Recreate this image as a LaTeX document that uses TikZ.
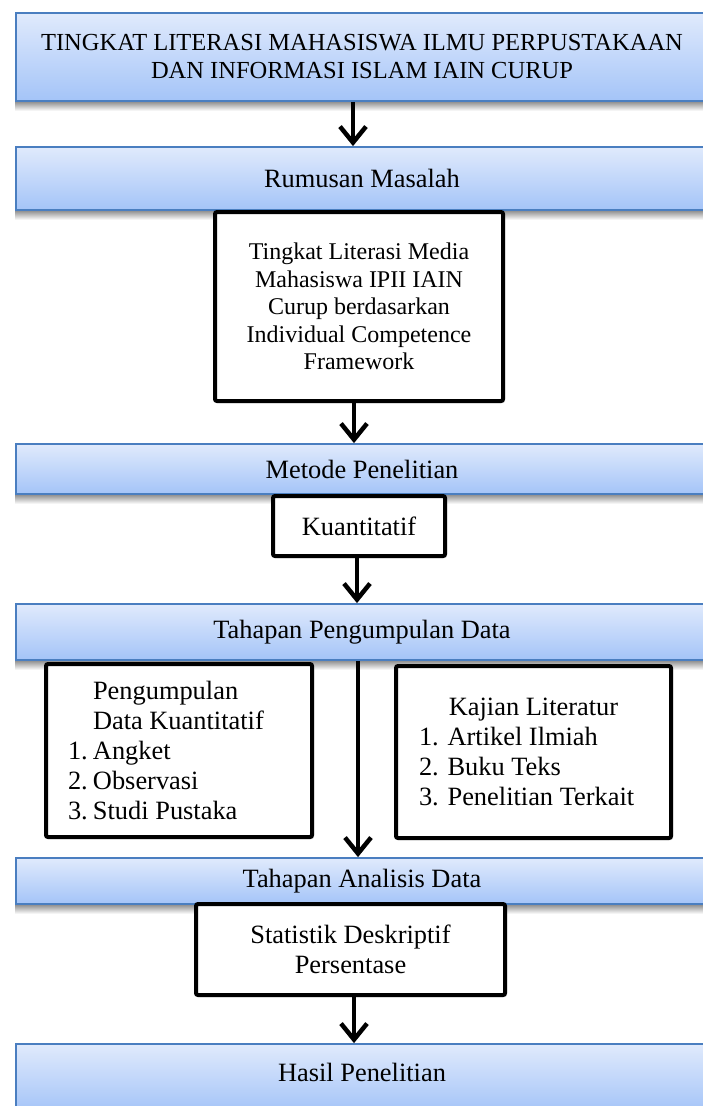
\documentclass[tikz,border=0pt]{standalone}
\usepackage{fontspec}
\setmainfont{Liberation Serif}
\usetikzlibrary{arrows.meta,shadows}
\definecolor{bluetop}{RGB}{224,234,252}
\definecolor{bluebot}{RGB}{164,196,248}
\definecolor{blueline}{RGB}{74,126,192}
\pgfdeclarelayer{background}
\pgfsetlayers{background,main}
\begin{document}
\begin{tikzpicture}[x=1pt,y=-1pt,
  bluebox/.style={draw=blueline, line width=1.8pt, top color=bluetop, bottom color=bluebot,
    minimum width=692pt, inner sep=0pt, align=center, font=\fontsize{26.4}{30}\selectfont},
  blackbox/.style={draw=black, line width=4pt, fill=white, rounded corners=2pt, inner sep=0pt,
    align=center, font=\fontsize{26.4}{30}\selectfont,
    drop shadow={shadow xshift=2pt, shadow yshift=-2pt, opacity=0.25}},
  btext/.style={inner sep=0pt, font=\fontsize{26.4}{30}\selectfont},
  bshade/.style={top color=black!40, bottom color=white, draw=none},
  arr/.style={line width=4pt, -{Straight Barb[length=16pt,width=26pt,line width=4.5pt]}},
]
\useasboundingbox (0,0) rectangle (703,1106);
\begin{scope}
\clip (0,0) rectangle (703,1106);
% blue boxes
\node[bluebox, minimum height=88pt, font=\fontsize{24.5}{28}\selectfont] (title) at (362,57)
  {TINGKAT LITERASI MAHASISWA ILMU PERPUSTAKAAN\\DAN INFORMASI ISLAM IAIN CURUP};
\node[bluebox, minimum height=63pt] (rumusan) at (362,178.5) {Rumusan Masalah};
\node[bluebox, minimum height=50pt] (metode) at (362,469) {Metode Penelitian};
\node[bluebox, minimum height=56pt] (tpd) at (362,632) {Tahapan Pengumpulan Data};
\node[bluebox, minimum height=46pt] (tad) at (362,881) {Tahapan Analisis Data};
\node[bluebox, minimum height=68pt] (hasil) at (362,1078) {};
\node[btext] (hasiltxt) at (362,1072) {Hasil Penelitian};
% blue shadows
\begin{pgfonlayer}{background}
\foreach \b in {title,rumusan,metode,tpd,tad}{
  \fill[bshade] ([yshift=-0.5pt]\b.south west) rectangle ([yshift=-9pt]\b.south east);
}
\end{pgfonlayer}
% black boxes
\node[blackbox, minimum width=288pt, minimum height=189pt, font=\fontsize{24}{27.5}\selectfont] (b1) at (359,306.5)
  {Tingkat Literasi Media\\Mahasiswa IPII IAIN\\Curup berdasarkan\\Individual Competence\\Framework};
\node[blackbox, minimum width=172pt, minimum height=60pt] (kuant) at (359,526) {Kuantitatif};
\node[blackbox, minimum width=266pt, minimum height=173pt, text width=222pt, align=flush left] (left) at (179,750.5)
  {\hspace*{25pt}Pengumpulan\\\hspace*{25pt}Data Kuantitatif\\\makebox[25pt][l]{1.}Angket\\\makebox[25pt][l]{2.}Observasi\\\makebox[25pt][l]{3.}Studi Pustaka};
\node[blackbox, minimum width=275pt, minimum height=172pt, text width=229pt, align=flush left] (right) at (533.5,752)
  {\makebox[229pt]{Kajian Literatur}\\1. Artikel Ilmiah\\2. Buku Teks\\3. Penelitian Terkait};
\node[blackbox, minimum width=309pt, minimum height=91pt] (stat) at (350.5,949.5)
  {Statistik Deskriptif\\Persentase};
% arrows
\draw[arr] ([xshift=-9pt]title.south) -- ([xshift=-9pt]title.south |- rumusan.north);
\draw[arr] ([xshift=-5pt]b1.south) -- ([xshift=-5pt]b1.south |- metode.north);
\draw[arr] ([xshift=-2pt]kuant.south) -- ([xshift=-2pt]kuant.south |- tpd.north);
\draw[arr] ([xshift=-4pt]tpd.south) -- ([xshift=-4pt]tpd.south |- tad.north);
\draw[arr] ([xshift=3.5pt]stat.south) -- ([xshift=3.5pt]stat.south |- hasil.north);
\end{scope}
\end{tikzpicture}
\end{document}
